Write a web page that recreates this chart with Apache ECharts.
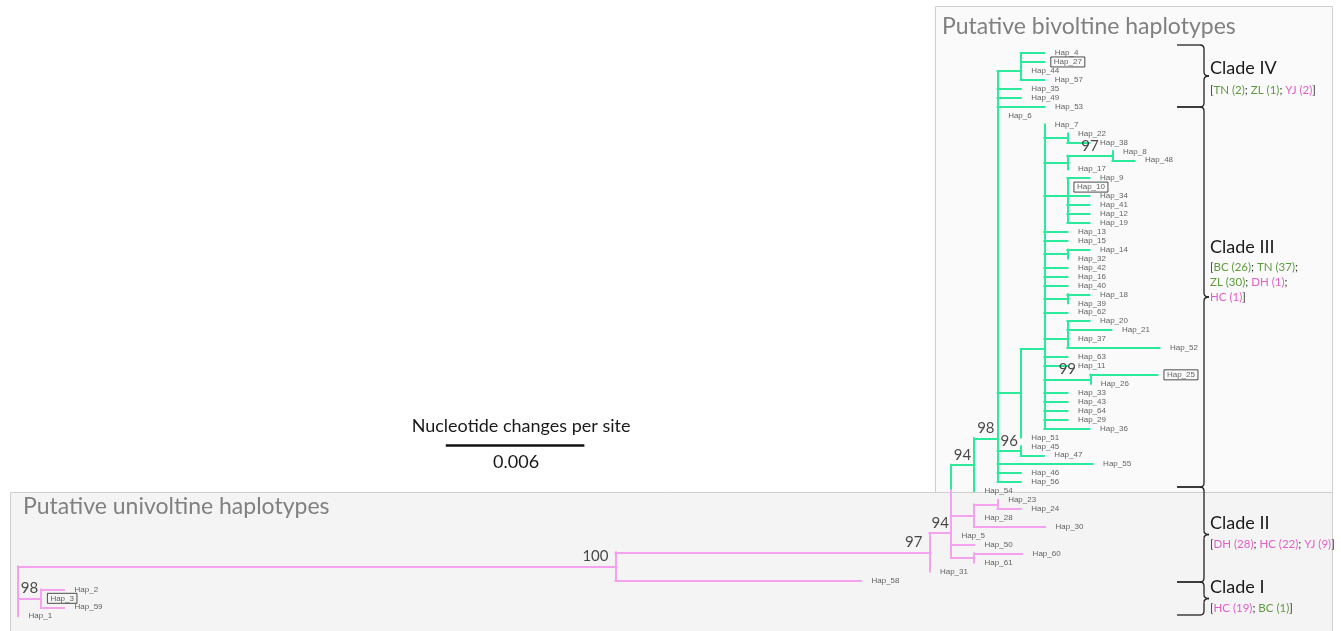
<!DOCTYPE html>
<html>
<head>
<meta charset="utf-8">
<script src="https://cdn.jsdelivr.net/npm/echarts@6/dist/echarts.min.js"></script>
<style>
  html, body { margin: 0; padding: 0; background: #ffffff; }
  #chart { width: 1341px; height: 631px; }
</style>
</head>
<body>
<div id="chart"></div>
<script>
// Haplotypes in the order they appear down the tree
const leafOrder = [
  'Hap_4', 'Hap_27', 'Hap_44', 'Hap_57', 'Hap_35', 'Hap_49', 'Hap_53', 'Hap_6',
  'Hap_7', 'Hap_22', 'Hap_38', 'Hap_8', 'Hap_48', 'Hap_17', 'Hap_9', 'Hap_10',
  'Hap_34', 'Hap_41', 'Hap_12', 'Hap_19', 'Hap_13', 'Hap_15', 'Hap_14', 'Hap_32',
  'Hap_42', 'Hap_16', 'Hap_40', 'Hap_18', 'Hap_39', 'Hap_62', 'Hap_20', 'Hap_21',
  'Hap_37', 'Hap_52', 'Hap_63', 'Hap_11', 'Hap_25', 'Hap_26', 'Hap_33', 'Hap_43',
  'Hap_64', 'Hap_29', 'Hap_36', 'Hap_51', 'Hap_45', 'Hap_47', 'Hap_55', 'Hap_46',
  'Hap_56', 'Hap_54', 'Hap_23', 'Hap_24', 'Hap_28', 'Hap_30', 'Hap_5', 'Hap_50',
  'Hap_60', 'Hap_61', 'Hap_31', 'Hap_58', 'Hap_2', 'Hap_3', 'Hap_59', 'Hap_1'
];

// Branches: [node, parent, branch length in nucleotide changes per site]
const branches = [
  ['N98u', 'root', 0.00101], ['Hap_2', 'N98u', 0.00102], ['Hap_3', 'N98u', 0],
  ['Hap_59', 'N98u', 0.00102], ['Hap_1', 'root', 0],
  ['N100', 'root', 0.02636], ['Hap_58', 'N100', 0.01083], ['N97', 'N100', 0.01385],
  ['Hap_31', 'N97', 0], ['N94', 'N97', 0.00095],
  ['N98g', 'N94', 0.00102], ['Na', 'N94', 0.00102], ['Hap_5', 'N94', 0],
  ['Hap_50', 'N94', 0.00102], ['Nc', 'N94', 0.00102],
  ['N2324', 'Na', 0.00104], ['Hap_23', 'N2324', 0], ['Hap_24', 'N2324', 0.00102],
  ['Hap_28', 'Na', 0], ['Hap_30', 'Na', 0.00313],
  ['Hap_60', 'Nc', 0.00212], ['Hap_61', 'Nc', 0],
  ['Nbig', 'N98g', 0.00104], ['Hap_54', 'N98g', 0],
  ['NIV', 'Nbig', 0.00102], ['Hap_4', 'NIV', 0.00104], ['Hap_27', 'NIV', 0.00104],
  ['Hap_44', 'NIV', 0], ['Hap_57', 'NIV', 0.00104],
  ['Hap_35', 'Nbig', 0.00102], ['Hap_49', 'Nbig', 0.00102], ['Hap_53', 'Nbig', 0.00207],
  ['Hap_6', 'Nbig', 0], ['NA', 'Nbig', 0.00102], ['N96', 'Nbig', 0.00102],
  ['Hap_55', 'Nbig', 0.00419], ['Hap_46', 'Nbig', 0.00102], ['Hap_56', 'Nbig', 0.00102],
  ['NIII', 'NA', 0.00104], ['Hap_51', 'NA', 0],
  ['Hap_45', 'N96', 0], ['Hap_47', 'N96', 0.00102],
  ['Hap_7', 'NIII', 0],
  ['N2238', 'NIII', 0.00102], ['Hap_22', 'N2238', 0], ['Hap_38', 'N2238', 0.00097],
  ['N97c', 'NIII', 0.00102], ['N848', 'N97c', 0.00199], ['Hap_8', 'N848', 0],
  ['Hap_48', 'N848', 0.00097], ['Hap_17', 'N97c', 0],
  ['N9', 'NIII', 0.00102], ['Hap_9', 'N9', 0.00097], ['Hap_10', 'N9', 0],
  ['Hap_34', 'N9', 0.00097], ['Hap_41', 'N9', 0.00097], ['Hap_12', 'N9', 0.00097],
  ['Hap_19', 'N9', 0.00097],
  ['Hap_13', 'NIII', 0.00102], ['Hap_15', 'NIII', 0.00102],
  ['N1432', 'NIII', 0.00102], ['Hap_14', 'N1432', 0.00097], ['Hap_32', 'N1432', 0],
  ['Hap_42', 'NIII', 0.00102], ['Hap_16', 'NIII', 0.00102], ['Hap_40', 'NIII', 0.00102],
  ['N1839', 'NIII', 0.00102], ['Hap_18', 'N1839', 0.00097], ['Hap_39', 'N1839', 0],
  ['Hap_62', 'NIII', 0.00102],
  ['N20', 'NIII', 0.00102], ['Hap_20', 'N20', 0.00097], ['Hap_21', 'N20', 0.00194],
  ['Hap_37', 'N20', 0], ['Hap_52', 'N20', 0.00406],
  ['Hap_63', 'NIII', 0.00102], ['Hap_11', 'NIII', 0.00102],
  ['N99', 'NIII', 0.00203], ['Hap_25', 'N99', 0.00296], ['Hap_26', 'N99', 0],
  ['Hap_33', 'NIII', 0.00102], ['Hap_43', 'NIII', 0.00102], ['Hap_64', 'NIII', 0.00102],
  ['Hap_29', 'NIII', 0.00102], ['Hap_36', 'NIII', 0.00199]
];

// Row (in haplotype-row units) at which each internal node is drawn
const nodeRows = {
  root: 61, N98u: 61, N100: 57.45, N97: 55.85, N94: 53.7, Na: 51.75, N2324: 50.5,
  Nc: 56.5, N98g: 46.05, Nbig: 43.1, NIV: 2, NA: 38.05, N96: 44.5, NIII: 33.1,
  N2238: 9.5, N97c: 12.25, N848: 11.5, N9: 16, N1432: 22.5, N1839: 27.5,
  N20: 32, N99: 36.5
};

// Bootstrap support: [node, value]
const support = [
  ['N98u', 98], ['N100', 100], ['N97', 97], ['N94', 94], ['N98g', 94],
  ['Nbig', 98], ['N96', 96], ['N848', 97], ['N99', 99]
];

// Haplotypes shown with a frame
const boxedHaps = ['Hap_27', 'Hap_10', 'Hap_25', 'Hap_3'];

// Root of the bivoltine lineage
const bivoltineRoot = 'N98g';

// Clades with their population counts
const clades = [
  { name: 'Clade IV',  pops: [['TN', 2], ['ZL', 1], ['YJ', 2]] },
  { name: 'Clade III', pops: [['BC', 26], ['TN', 37], ['ZL', 30], ['DH', 1], ['HC', 1]] },
  { name: 'Clade II',  pops: [['DH', 28], ['HC', 22], ['YJ', 9]] },
  { name: 'Clade I',   pops: [['HC', 19], ['BC', 1]] }
];
const bivoltinePops = ['BC', 'TN', 'ZL'];

const scaleBarLength = 0.006;
const scaleBarTitle = 'Nucleotide changes per site';
const groupTitles = ['Putative bivoltine haplotypes', 'Putative univoltine haplotypes'];

// ---------------- layout & style ----------------
const GREEN = '#2BEA9C';
const PINK = '#F4A2EE';
const X_MAX = 0.056;
const ROW_MAX = 63;
const GRID = { left: 18, top: 53, width: 1269.3, height: 563.2 };
const SCALE_BAR_POS = { x: 0.01893, row: 43.9 };
const CLADE_LAYOUT = [
  { top: 45,  bottom: 107, titleY: 68,  popY: 90,  perLine: 5 },
  { top: 107, bottom: 487, titleY: 247, popY: 267, perLine: 2 },
  { top: 487, bottom: 582, titleY: 523, popY: 544, perLine: 5 },
  { top: 582, bottom: 615, titleY: 587, popY: 608, perLine: 5 }
];
const BRACE_X = { arm: 1177, spine: 1204 };
const CLADE_TEXT_X = 1210;

// ---------------- tree geometry ----------------
const rowOf = {};
leafOrder.forEach((n, i) => { rowOf[n] = i; });
Object.assign(rowOf, nodeRows);

const parentOf = {}, lenOf = {}, childrenOf = {};
branches.forEach(([c, p, l]) => {
  parentOf[c] = p; lenOf[c] = l;
  (childrenOf[p] = childrenOf[p] || []).push(c);
});
const depthOf = { root: 0 };
function depth(n) {
  if (depthOf[n] !== undefined) return depthOf[n];
  return (depthOf[n] = depth(parentOf[n]) + lenOf[n]);
}
function colorOf(n) {
  let k = n;
  while (k) { if (k === bivoltineRoot) return GREEN; k = parentOf[k]; }
  return PINK;
}

const segments = [];
// horizontal branches
branches.forEach(([c, p, l]) => {
  if (l <= 0) return;
  segments.push({ coords: [[depth(p), rowOf[c]], [depth(c), rowOf[c]]], lineStyle: { color: colorOf(c) } });
});
// vertical connectors, each part coloured like the nearest child
Object.keys(childrenOf).forEach(p => {
  const kids = childrenOf[p].slice().sort((a, b) => rowOf[a] - rowOf[b]);
  const pieces = [];
  for (let i = 0; i < kids.length - 1; i++) {
    const a = rowOf[kids[i]], b = rowOf[kids[i + 1]], m = (a + b) / 2;
    pieces.push([a, m, colorOf(kids[i])]);
    pieces.push([m, b, colorOf(kids[i + 1])]);
  }
  const merged = [];
  pieces.forEach(pc => {
    const last = merged[merged.length - 1];
    if (last && last[2] === pc[2] && Math.abs(last[1] - pc[0]) < 1e-9) last[1] = pc[1];
    else merged.push(pc.slice());
  });
  const x = depth(p);
  merged.forEach(([a, b, col]) => {
    segments.push({ coords: [[x, a], [x, b]], lineStyle: { color: col } });
  });
});

// tip labels
const tipData = leafOrder.map(n => {
  const boxed = boxedHaps.includes(n);
  return {
    name: n,
    value: [depth(n), rowOf[n]],
    label: boxed
      ? { distance: 6, borderColor: '#222', borderWidth: 1, padding: [1, 3, 0, 3] }
      : { distance: 10 }
  };
});

// bootstrap labels
const supportData = support.map(([n, v]) => {
  const x0 = depth(parentOf[n]), x1 = depth(n);
  const short = (x1 - x0) < 0.0025;
  return {
    name: String(v),
    value: [short ? (x0 + x1) / 2 : x1, rowOf[n]],
    label: short ? { align: 'center', offset: [0, 0] } : { align: 'right', offset: [-7, 0] }
  };
});

// scale bar
const scaleSeg = {
  coords: [[SCALE_BAR_POS.x, SCALE_BAR_POS.row], [SCALE_BAR_POS.x + scaleBarLength, SCALE_BAR_POS.row]],
  lineStyle: { color: '#111', width: 2.6 }
};

const chart = echarts.init(document.getElementById('chart'), null, { renderer: 'canvas' });
chart.setOption({
  animation: false,
  backgroundColor: '#ffffff',
  grid: { left: GRID.left, top: GRID.top, width: GRID.width, height: GRID.height, containLabel: false },
  xAxis: { type: 'value', min: 0, max: X_MAX, show: false },
  yAxis: { type: 'value', min: 0, max: ROW_MAX, inverse: true, show: false },
  series: [
    {
      type: 'lines', coordinateSystem: 'cartesian2d', z: 3, silent: true,
      lineStyle: { width: 2, opacity: 1, cap: 'square' },
      data: segments.concat([scaleSeg])
    },
    {
      type: 'scatter', z: 4, silent: true, symbolSize: 1,
      itemStyle: { color: 'rgba(0,0,0,0)' },
      labelLayout: { hideOverlap: false },
      label: {
        show: true, position: 'right', formatter: '{b}',
        fontFamily: 'Liberation Sans', fontSize: 8, color: '#3a3a3a', lineHeight: 9
      },
      data: tipData
    },
    {
      type: 'scatter', z: 4, silent: true, symbolSize: 1,
      itemStyle: { color: 'rgba(0,0,0,0)' },
      label: {
        show: true, position: 'top', distance: 2, formatter: '{b}',
        fontFamily: 'Lato', fontSize: 15, color: '#1a1a1a'
      },
      data: supportData
    }
  ]
});

// ---------------- annotations ----------------
const graphics = [
  { id: 'boxBi', type: 'rect', z: -10, shape: { x: 935.5, y: 6.5, width: 397, height: 487 },
    style: { fill: '#fafafa', stroke: '#cfcfcf', lineWidth: 1 } },
  { id: 'boxUni', type: 'rect', z: -9, shape: { x: 10.5, y: 492.5, width: 1322, height: 150 },
    style: { fill: '#f4f4f4', stroke: '#cfcfcf', lineWidth: 1 } },
  { id: 'titleBi', type: 'text', z: 50, x: 942, y: 27,
    style: { text: groupTitles[0], fontFamily: 'Lato', fontSize: 23, fill: '#808080', verticalAlign: 'middle' } },
  { id: 'titleUni', type: 'text', z: 50, x: 23, y: 507,
    style: { text: groupTitles[1], fontFamily: 'Lato', fontSize: 23, fill: '#808080', verticalAlign: 'middle' } }
];

// scale bar captions
const barL = chart.convertToPixel({ gridIndex: 0 }, [SCALE_BAR_POS.x, SCALE_BAR_POS.row]);
const barR = chart.convertToPixel({ gridIndex: 0 }, [SCALE_BAR_POS.x + scaleBarLength, SCALE_BAR_POS.row]);
const barMid = (barL[0] + barR[0]) / 2;
graphics.push(
  { id: 'scaleTitle', type: 'text', z: 50, x: barMid + 6, y: barL[1] - 19,
    style: { text: scaleBarTitle, fontFamily: 'Lato', fontSize: 18, fill: '#1a1a1a', align: 'center', verticalAlign: 'middle' } },
  { id: 'scaleValue', type: 'text', z: 50, x: barMid + 1, y: barL[1] + 17,
    style: { text: String(scaleBarLength), fontFamily: 'Lato', fontSize: 18, fill: '#1a1a1a', align: 'center', verticalAlign: 'middle' } }
);

// clade braces (built from straight and curved strokes) and captions
const braceStyle = { stroke: '#222', lineWidth: 1.3, fill: 'none' };
function braceParts(id, top, bottom) {
  const x0 = BRACE_X.arm, x1 = BRACE_X.spine, r = 4, mid = (top + bottom) / 2, tip = 5;
  const ln = (k, a, b, c, d) => ({ id: id + k, type: 'line', z: 40, shape: { x1: a, y1: b, x2: c, y2: d }, style: braceStyle });
  const qc = (k, a, b, cx, cy, c, d) => ({ id: id + k, type: 'bezierCurve', z: 40,
    shape: { x1: a, y1: b, x2: c, y2: d, cpx1: cx, cpy1: cy }, style: braceStyle });
  return [
    ln('a', x0, top, x1 - r, top),
    qc('b', x1 - r, top, x1, top, x1, top + r),
    ln('c', x1, top + r, x1, mid - r),
    qc('d', x1, mid - r, x1, mid, x1 + tip, mid),
    qc('e', x1 + tip, mid, x1, mid, x1, mid + r),
    ln('f', x1, mid + r, x1, bottom - r),
    qc('g', x1, bottom - r, x1, bottom, x1 - r, bottom),
    ln('h', x1 - r, bottom, x0, bottom)
  ];
}
const POP_FONT = 11.5;
const popRich = {
  k: { fill: '#333333', fontFamily: 'Lato', fontSize: POP_FONT },
  g: { fill: '#5E9B3E', fontFamily: 'Lato', fontSize: POP_FONT },
  p: { fill: '#E05FC8', fontFamily: 'Lato', fontSize: POP_FONT }
};
clades.forEach((c, i) => {
  const L = CLADE_LAYOUT[i];
  braceParts('brace' + i, L.top, L.bottom).forEach(g => graphics.push(g));
  graphics.push({
    id: 'cladeTitle' + i, type: 'text', z: 50, x: CLADE_TEXT_X, y: L.titleY,
    style: { text: c.name, fontFamily: 'Lato', fontSize: 18, fill: '#1a1a1a', verticalAlign: 'middle' }
  });
  const lines = [];
  for (let j = 0; j < c.pops.length; j += L.perLine) lines.push(c.pops.slice(j, j + L.perLine));
  const txt = lines.map((ln, li) => {
    const parts = ln.map(([pop, n], pi) => {
      const key = bivoltinePops.includes(pop) ? 'g' : 'p';
      const isLast = li === lines.length - 1 && pi === ln.length - 1;
      return `{${key}|${pop} (${n})}` + (isLast ? '' : '{k|; }');
    }).join('');
    return (li === 0 ? '{k|[}' : '') + parts + (li === lines.length - 1 ? '{k|]}' : '');
  }).join('\n');
  graphics.push({
    id: 'cladePops' + i, type: 'text', z: 50, x: CLADE_TEXT_X, y: L.popY - 7,
    style: { text: txt, rich: popRich, fontFamily: 'Lato', fontSize: POP_FONT, lineHeight: 15, verticalAlign: 'top' }
  });
});

chart.setOption({ graphic: graphics });
</script>
</body>
</html>
